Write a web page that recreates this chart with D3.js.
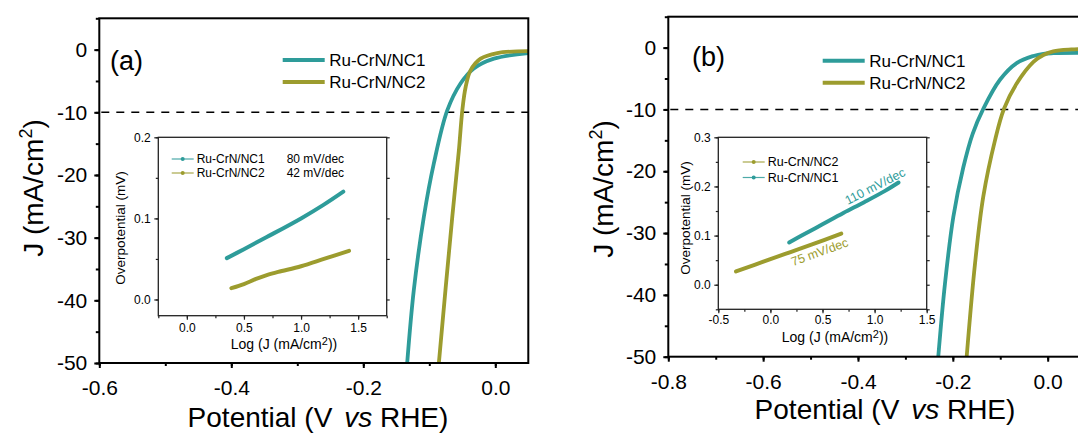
<!DOCTYPE html>
<html><head><meta charset="utf-8">
<script src="https://cdn.jsdelivr.net/npm/d3@7"></script>
<style>
body{margin:0;background:#fff}
svg{display:block}
text{font-family:"Liberation Sans",Arial,sans-serif;fill:#000}
</style>
</head><body>
<svg id="chart" width="1078" height="435"></svg>
<script>
// ---------------- DATA ----------------
const seriesNames = ["Ru-CrN/NC1", "Ru-CrN/NC2"];
const seriesColors = ["#2e9c9a", "#9c9c2e"];

// Panel (a) LSV curves: potential (V vs RHE), current density (mA/cm2)
const aNC1_V = [-0.1335, -0.1235, -0.1083, -0.0932, -0.0728, -0.0527, -0.0325, -0.0021, 0.05];
const aNC1_J = [-50, -38.4, -26.7, -18.2, -9.7, -5.4, -3.0, -1.44, -0.55];
const aNC2_V = [-0.0855, -0.0752, -0.0652, -0.0552, -0.050, -0.045, -0.0375, -0.0222, 0.003, 0.05];
const aNC2_J = [-50, -38, -26.7, -16.1, -9.7, -6.0, -3.3, -1.44, -0.54, -0.25];

// Panel (b) LSV curves
const bNC1_V = [-0.2307, -0.2166, -0.199, -0.178, -0.158, -0.1358, -0.1006, -0.0654, -0.030, -0.009, 0.0118, 0.1];
const bNC1_J = [-50, -38.2, -27.4, -19.4, -13.9, -9.9, -5.2, -2.5, -1.35, -1.0, -0.9, -0.85];
const bNC2_V = [-0.1708, -0.1533, -0.1358, -0.1111, -0.0921, -0.0654, -0.030, -0.009, 0.0118, 0.05, 0.1];
const bNC2_J = [-50, -35, -24.1, -15.0, -9.9, -5.8, -2.3, -1.2, -0.6, -0.3, -0.2];

// Inset (a) Tafel: log J, overpotential
const taNC1_x = [0.35, 0.5, 0.7, 1.0, 1.2, 1.37];
const taNC1_y = [0.051, 0.062, 0.077, 0.100, 0.117, 0.133];
const taNC2_x = [0.39, 0.5, 0.6, 0.7, 0.8, 1.0, 1.2, 1.42];
const taNC2_y = [0.014, 0.019, 0.025, 0.030, 0.034, 0.041, 0.050, 0.060];
const taSlopes = ["80 mV/dec", "42 mV/dec"];

// Inset (b) Tafel
const tbNC1_x = [0.18, 0.3, 0.5, 0.7, 0.9, 1.1, 1.23];
const tbNC1_y = [0.086, 0.100, 0.123, 0.146, 0.168, 0.191, 0.208];
const tbNC2_x = [-0.33, 0.0, 0.2, 0.4, 0.68];
const tbNC2_y = [0.027, 0.052, 0.067, 0.082, 0.104];
const tbSlopes = ["110 mV/dec", "75 mV/dec"];

// Reference level
const refJ = -10;

// Ticks
const mainYTicks = [0, -10, -20, -30, -40, -50];
const mainYTickLabels = ["0", "-10", "-20", "-30", "-40", "-50"];
const aXTicks = [-0.6, -0.4, -0.2, 0.0];
const aXTickLabels = ["-0.6", "-0.4", "-0.2", "0.0"];
const bXTicks = [-0.8, -0.6, -0.4, -0.2, 0.0];
const bXTickLabels = ["-0.8", "-0.6", "-0.4", "-0.2", "0.0"];
const iaXTicks = [0.0, 0.5, 1.0, 1.5];
const iaXTickLabels = ["0.0", "0.5", "1.0", "1.5"];
const iaYTicks = [0.0, 0.1, 0.2];
const iaYTickLabels = ["0.0", "0.1", "0.2"];
const ibXTicks = [-0.5, 0.0, 0.5, 1.0, 1.5];
const ibXTickLabels = ["-0.5", "0.0", "0.5", "1.0", "1.5"];
const ibYTicks = [0.0, 0.1, 0.2, 0.3];
const ibYTickLabels = ["0.0", "0.1", "0.2", "0.3"];

// ---------------- DRAW ----------------
const svg = d3.select("#chart");
const zip = (xs, ys) => xs.map((x, i) => [x, ys[i]]);
let clipId = 0;

function minorTicks(domain, step) {
  const out = [];
  const s = Math.ceil(domain[0] / step - 1e-9);
  const e = Math.floor(domain[1] / step + 1e-9);
  for (let k = s; k <= e; k++) out.push(+(k * step).toFixed(6));
  return out;
}

function mainPanel(cfg) {
  const g = svg.append("g");
  const x = d3.scaleLinear().domain(cfg.xDomain).range(cfg.xRange);
  const y = d3.scaleLinear().domain(cfg.yDomain).range(cfg.yRange);
  const id = "clip" + (clipId++);
  g.append("clipPath").attr("id", id).append("rect")
    .attr("x", cfg.xRange[0]).attr("y", cfg.yRange[1])
    .attr("width", cfg.xRange[1] - cfg.xRange[0]).attr("height", cfg.yRange[0] - cfg.yRange[1]);

  // dashed reference line
  g.append("line")
    .attr("x1", cfg.xRange[0] + 2).attr("x2", cfg.xRange[1])
    .attr("y1", y(refJ)).attr("y2", y(refJ))
    .attr("stroke", "#000").attr("stroke-width", 1.5).attr("stroke-dasharray", "8,7");

  // curves
  const line = d3.line().x(d => x(d[0])).y(d => y(d[1])).curve(d3.curveCatmullRom.alpha(0.5));
  const cg = g.append("g").attr("clip-path", `url(#${id})`);
  cfg.curves.forEach((c, i) => {
    cg.append("path").datum(c).attr("d", line)
      .attr("fill", "none").attr("stroke", seriesColors[i]).attr("stroke-width", 3.8);
  });

  // frame
  g.append("rect").attr("x", cfg.xRange[0]).attr("y", cfg.yRange[1])
    .attr("width", cfg.xRange[1] - cfg.xRange[0]).attr("height", cfg.yRange[0] - cfg.yRange[1])
    .attr("fill", "none").attr("stroke", "#000").attr("stroke-width", 2);

  // axes
  const xMinor = d3.axisBottom(x).tickValues(minorTicks(cfg.xDomain, 0.1)).tickSize(3).tickFormat("");
  const xMajor = d3.axisBottom(x).tickValues(cfg.xTicks).tickSize(5).tickPadding(12)
    .tickFormat((d, i) => cfg.xTickLabels[i]);
  const yMinor = d3.axisLeft(y).tickValues(minorTicks([-50, 5], 5)).tickSize(3.5).tickFormat("");
  const yMajor = d3.axisLeft(y).tickValues(mainYTicks).tickSize(5).tickPadding(7)
    .tickFormat((d, i) => mainYTickLabels[i]);
  [xMinor, xMajor].forEach(a => {
    const ag = g.append("g").attr("transform", `translate(0,${cfg.yRange[0]})`).call(a);
    ag.select(".domain").remove();
    ag.selectAll("line").attr("stroke", "#000").attr("stroke-width", 2);
    ag.selectAll("text").attr("font-size", 21).attr("font-family", '"Liberation Sans", Arial, sans-serif').attr("fill", "#000");
  });
  [yMinor, yMajor].forEach(a => {
    const ag = g.append("g").attr("transform", `translate(${cfg.xRange[0]},0)`).call(a);
    ag.select(".domain").remove();
    ag.selectAll("line").attr("stroke", "#000").attr("stroke-width", 2);
    ag.selectAll("text").attr("font-size", 21).attr("font-family", '"Liberation Sans", Arial, sans-serif').attr("fill", "#000");
  });

  // axis titles
  const xt = g.append("text").attr("x", cfg.xTitle[0]).attr("y", cfg.xTitle[1])
    .attr("text-anchor", "middle").attr("font-size", 28);
  xt.append("tspan").text("Potential (V ");
  xt.append("tspan").attr("font-style", "italic").attr("dx", 4).text("vs");
  xt.append("tspan").text(" RHE)");

  const yt = g.append("text")
    .attr("transform", `translate(${cfg.yTitle[0]},${cfg.yTitle[1]}) rotate(-90)`)
    .attr("text-anchor", "middle").attr("font-size", 28);
  yt.append("tspan").text("J (mA/cm");
  yt.append("tspan").attr("font-size", 18).attr("dy", -11).text("2");
  yt.append("tspan").attr("dy", 11).text(")");

  // panel label
  g.append("text").attr("x", cfg.label[0]).attr("y", cfg.label[1])
    .attr("font-family", '"Open Sans", sans-serif').attr("font-size", 27).text(cfg.labelText);

  // legend
  seriesNames.forEach((n, i) => {
    const ly = cfg.legend[1] + i * 22;
    g.append("line").attr("x1", cfg.legend[0]).attr("x2", cfg.legend[0] + 42)
      .attr("y1", ly).attr("y2", ly).attr("stroke", seriesColors[i]).attr("stroke-width", 4);
    g.append("text").attr("x", cfg.legend[0] + 46.5).attr("y", ly + 6)
      .attr("font-size", 17).text(n);
  });
  return g;
}

function inset(cfg) {
  const g = svg.append("g");
  const x = d3.scaleLinear().domain(cfg.xDomain).range(cfg.xRange);
  const y = d3.scaleLinear().domain(cfg.yDomain).range(cfg.yRange);
  g.append("rect").attr("x", cfg.xRange[0]).attr("y", cfg.yRange[1])
    .attr("width", cfg.xRange[1] - cfg.xRange[0]).attr("height", cfg.yRange[0] - cfg.yRange[1])
    .attr("fill", "#fff").attr("stroke", "none");

  const line = d3.line().x(d => x(d[0])).y(d => y(d[1])).curve(d3.curveCatmullRom.alpha(0.5));
  cfg.curves.forEach((c, i) => {
    g.append("path").datum(c.data).attr("d", line)
      .attr("fill", "none").attr("stroke", seriesColors[c.s]).attr("stroke-width", 4)
      .attr("stroke-linecap", "round");
  });

  const fnt = '"Liberation Sans", Arial, sans-serif';
  const styleAxis = ag => {
    ag.select(".domain").remove();
    ag.selectAll("line").attr("stroke", "#222").attr("stroke-width", 1.2);
    ag.selectAll("text").attr("font-size", 12).attr("font-family", fnt).attr("fill", "#222");
  };
  const xMinor = d3.axisBottom(x).tickValues(minorTicks(cfg.xDomain, 0.25)).tickSize(2.5).tickFormat("");
  const xMajor = d3.axisBottom(x).tickValues(cfg.xTicks).tickSize(4).tickPadding(cfg.xPad)
    .tickFormat((d, i) => cfg.xTickLabels[i]);
  const yMinor = d3.axisLeft(y).tickValues(minorTicks(cfg.yDomain, 0.05)).tickSize(2.5).tickFormat("");
  const yMajor = d3.axisLeft(y).tickValues(cfg.yTicks).tickSize(4).tickPadding(3.5)
    .tickFormat((d, i) => cfg.yTickLabels[i]);
  const yRight = d3.axisLeft(y).tickValues(minorTicks(cfg.yDomain, 0.05)).tickSize(-3).tickFormat("");
  [xMinor, xMajor].forEach(a => styleAxis(g.append("g").attr("transform", `translate(0,${cfg.yRange[0]})`).call(a)));
  [yMinor, yMajor].forEach(a => styleAxis(g.append("g").attr("transform", `translate(${cfg.xRange[0]},0)`).call(a)));
  styleAxis(g.append("g").attr("transform", `translate(${cfg.xRange[1]},0)`).call(yRight));

  g.append("rect").attr("x", cfg.xRange[0]).attr("y", cfg.yRange[1])
    .attr("width", cfg.xRange[1] - cfg.xRange[0]).attr("height", cfg.yRange[0] - cfg.yRange[1])
    .attr("fill", "none").attr("stroke", "#222").attr("stroke-width", 1.3);

  const xt = g.append("text").attr("x", cfg.xTitle[0]).attr("y", cfg.xTitle[1])
    .attr("text-anchor", "middle").attr("font-size", 14).attr("fill", "#222");
  xt.append("tspan").text("Log (J (mA/cm");
  xt.append("tspan").attr("font-size", 11).attr("dy", -4).text("2");
  xt.append("tspan").attr("dy", 4).text("))");

  g.append("text").attr("transform", `translate(${cfg.yTitle[0]},${cfg.yTitle[1]}) rotate(-90)`)
    .attr("text-anchor", "middle").attr("font-size", 13.5).attr("fill", "#222")
    .text("Overpotential (mV)");

  // legend
  cfg.legendOrder.forEach((s, i) => {
    const ly = cfg.legend[1] + i * cfg.legendGap;
    g.append("line").attr("x1", cfg.legend[0]).attr("x2", cfg.legend[0] + 22)
      .attr("y1", ly).attr("y2", ly).attr("stroke", seriesColors[s]).attr("stroke-width", 1.2)
      .attr("opacity", 0.85);
    g.append("circle").attr("cx", cfg.legend[0] + 11).attr("cy", ly).attr("r", 2)
      .attr("fill", seriesColors[s]);
    g.append("text").attr("x", cfg.legend[0] + 25).attr("y", ly + 4.3)
      .attr("font-size", cfg.legendFont).attr("fill", "#222").text(seriesNames[s]);
    if (cfg.legendSlopes) {
      g.append("text").attr("x", cfg.legendSlopes).attr("y", ly + 4.3)
        .attr("font-size", cfg.legendFont).attr("fill", "#222").text(cfg.slopes[s]);
    }
  });

  if (cfg.annot) {
    cfg.annot.forEach(a => {
      g.append("text").attr("transform", `translate(${a.pos[0]},${a.pos[1]}) rotate(${a.rot})`)
        .attr("text-anchor", "middle").attr("font-size", 12.5)
        .style("fill", seriesColors[a.s]).text(cfg.slopes[a.s]);
    });
  }
}

// Panel (a)
mainPanel({
  xDomain: [-0.6, 0.05], xRange: [99.3, 528.3],
  yDomain: [-50, 5], yRange: [363, 18.3],
  xTicks: aXTicks, xTickLabels: aXTickLabels,
  curves: [zip(aNC1_V, aNC1_J), zip(aNC2_V, aNC2_J)],
  xTitle: [318, 427], yTitle: [43, 188],
  label: [110, 70], labelText: "(a)",
  legend: [282.7, 60]
});
inset({
  xDomain: [-0.25, 1.75], xRange: [158.3, 386.7],
  yDomain: [-0.02, 0.2], yRange: [315.7, 137.3],
  xTicks: iaXTicks, xTickLabels: iaXTickLabels, xPad: 3.5,
  yTicks: iaYTicks, yTickLabels: iaYTickLabels,
  curves: [{s: 0, data: zip(taNC1_x, taNC1_y)}, {s: 1, data: zip(taNC2_x, taNC2_y)}],
  xTitle: [284, 348.5], yTitle: [125, 228],
  legend: [171.7, 159], legendGap: 14, legendOrder: [0, 1], legendFont: 12,
  legendSlopes: 286.7, slopes: taSlopes
});

// Panel (b)
mainPanel({
  xDomain: [-0.8, 0.1], xRange: [668.3, 1095.1],
  yDomain: [-50, 5], yRange: [356.7, 16.7],
  xTicks: bXTicks, xTickLabels: bXTickLabels,
  curves: [zip(bNC1_V, bNC1_J), zip(bNC2_V, bNC2_J)],
  xTitle: [885, 419], yTitle: [613, 189],
  label: [692, 66], labelText: "(b)",
  legend: [822.7, 60.7]
});
inset({
  xDomain: [-0.5, 1.5], xRange: [718.3, 926.7],
  yDomain: [-0.05, 0.3], yRange: [309.3, 137.3],
  xTicks: ibXTicks, xTickLabels: ibXTickLabels, xPad: 2,
  yTicks: ibYTicks, yTickLabels: ibYTickLabels,
  curves: [{s: 1, data: zip(tbNC2_x, tbNC2_y)}, {s: 0, data: zip(tbNC1_x, tbNC1_y)}],
  xTitle: [835, 342], yTitle: [690, 218],
  legend: [742.7, 162], legendGap: 15.5, legendOrder: [1, 0], legendFont: 12.5,
  slopes: tbSlopes,
  annot: [{s: 0, pos: [877, 190], rot: -27}, {s: 1, pos: [821, 256], rot: -20}]
});
</script>
</body></html>
